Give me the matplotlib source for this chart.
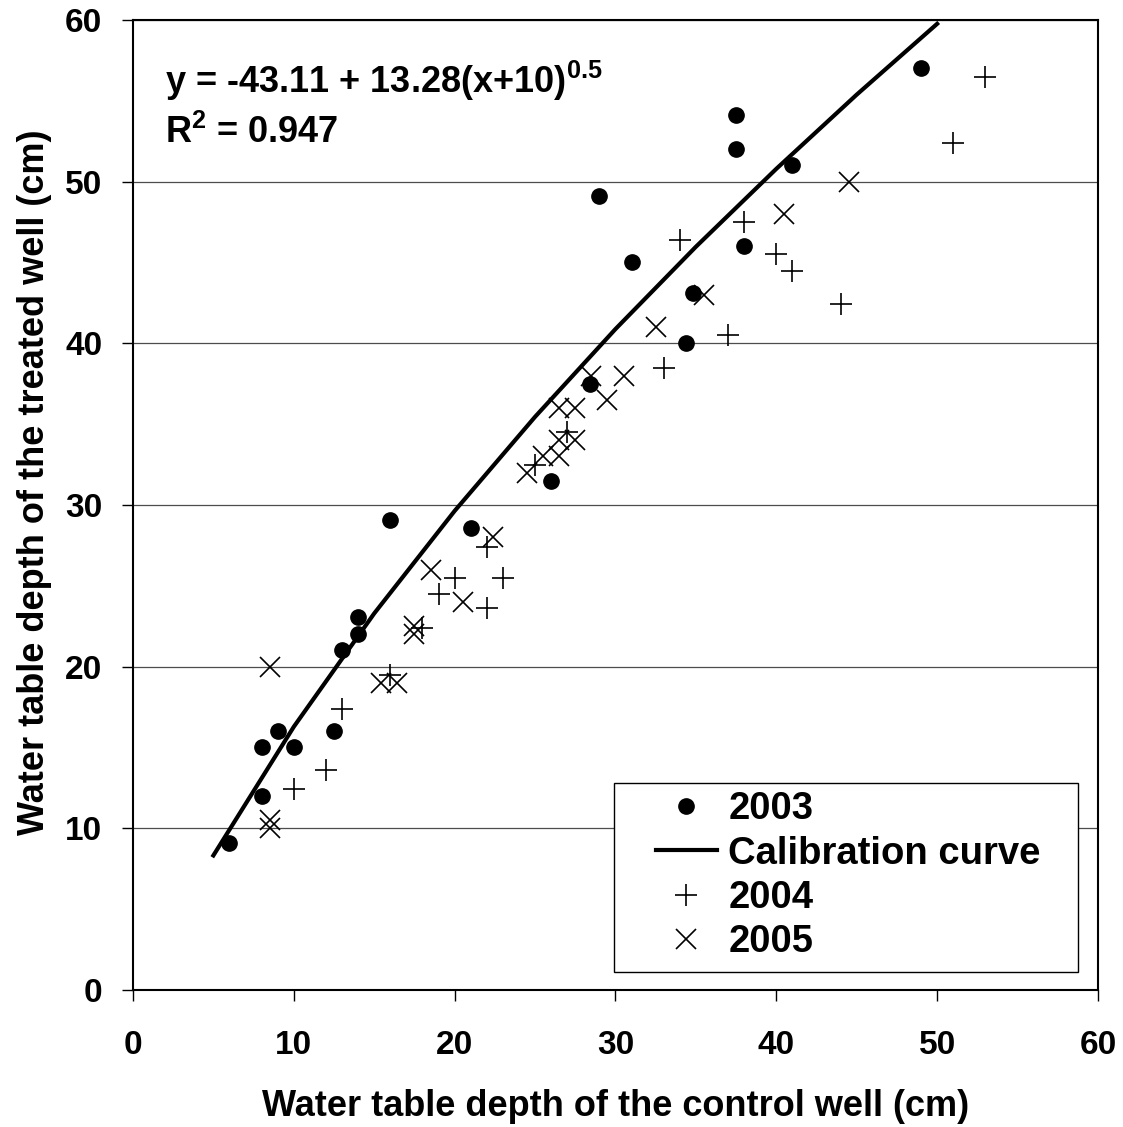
import matplotlib
matplotlib.use('Agg')
import matplotlib.pyplot as plt
from matplotlib.patches import Rectangle

plt.rcParams['font.family'] = ['Liberation Sans', 'DejaVu Sans']
plt.rcParams['font.weight'] = 'bold'
plt.rcParams['mathtext.fontset'] = 'custom'
plt.rcParams['mathtext.rm'] = 'Liberation Sans:bold'
plt.rcParams['mathtext.bf'] = 'Liberation Sans:bold'
plt.rcParams['mathtext.it'] = 'Liberation Sans:bold'

# 2003 observations (control, treated)
x_2003 = [6, 8, 8, 9, 10, 12.5, 13, 14, 14, 16, 21, 26, 28.4, 29, 31, 34.4, 34.8, 37.5, 37.5, 38, 41, 49]
y_2003 = [9.1, 12, 15, 16, 15, 16, 21, 22, 23.1, 29.1, 28.6, 31.5, 37.5, 49.1, 45, 40, 43.1, 52, 54.1, 46, 51, 57]

# 2004 observations
x_2004 = [10, 12, 13, 16, 18, 19, 20, 22, 22, 23, 25, 27, 33, 34, 37, 38, 40, 41, 44, 51, 53]
y_2004 = [12.4, 13.6, 17.4, 19.5, 22.4, 24.5, 25.5, 23.6, 27.4, 25.5, 32.5, 34.5, 38.5, 46.4, 40.5, 47.5, 45.5, 44.5, 42.4, 52.4, 56.5]

# 2005 observations
x_2005 = [8.5, 8.5, 8.5, 15.4, 16.4, 17.5, 17.5, 18.5, 20.5, 22.4, 24.5, 25.5, 26.5,
          26.5, 27.5, 26.5, 27.5, 29.5, 28.5, 30.5, 32.5, 35.5, 40.5, 44.5]
y_2005 = [10, 10.5, 20, 19, 19, 22, 22.5, 26, 24, 28, 32, 33, 33,
          34, 34, 36, 36, 36.5, 38, 38, 41, 43, 48, 50]

# calibration curve points
x_curve = [5, 10, 15, 20, 25, 30, 35, 40, 45, 50]
y_curve = [8.32, 16.28, 23.29, 29.63, 35.45, 40.88, 45.97, 50.79, 55.38, 59.76]

fig = plt.figure(figsize=(11.23, 11.27), dpi=100)
ax = fig.add_axes([0.1184, 0.1216, 0.8593, 0.8607])

ax.plot(x_2003, y_2003, 'o', color='black', markersize=11, label='2003', zorder=3)
ax.plot(x_curve, y_curve, '-', color='black', linewidth=3, label='Calibration curve', zorder=4)
ax.plot(x_2004, y_2004, '+', color='black', markersize=16, markeredgewidth=1.2, label='2004', zorder=3)
ax.plot(x_2005, y_2005, 'x', color='black', markersize=14, markeredgewidth=1.2, label='2005', zorder=3)

ax.set_xlim(0, 60)
ax.set_ylim(0, 60)
ax.set_xticks(range(0, 61, 10))
ax.set_yticks(range(0, 61, 10))
ax.yaxis.grid(True, color='0.3', linewidth=0.9)
ax.set_axisbelow(True)
for s in ax.spines.values():
    s.set_linewidth(1.5)
    s.set_color('black')
ax.tick_params(axis='both', direction='out', length=8, width=1, labelsize=24)
ax.tick_params(axis='x', pad=21)
ax.tick_params(axis='y', pad=14)

ax.text(0.033, 0.925, r'y = -43.11 + 13.28(x+10)$^{0.5}$', transform=ax.transAxes,
        fontsize=26, fontweight='bold', va='baseline', ha='left')
ax.text(0.033, 0.873, r'R$^{2}$ = 0.947', transform=ax.transAxes,
        fontsize=26, fontweight='bold', va='baseline', ha='left')

# legend box drawn separately, legend itself without frame
ax.add_patch(Rectangle((0.498, 0.0186), 0.481, 0.1944, transform=ax.transAxes,
                       facecolor='white', edgecolor='black', linewidth=1, zorder=5))
leg = ax.legend(loc='lower left', bbox_to_anchor=(0.530, 0.0186), borderaxespad=0,
                frameon=False, fontsize=27.5,
                handlelength=1.6, handletextpad=0.3, labelspacing=0.22, borderpad=0.3,
                prop={'weight': 'bold', 'size': 27.5})
leg.set_zorder(6)

fig.text(0.5477, 0.018, 'Water table depth of the control well (cm)', fontsize=26,
         fontweight='bold', ha='center', va='center')
fig.text(0.031, 0.572, 'Water table depth of the treated well (cm)', fontsize=26,
         fontweight='bold', ha='center', va='center', rotation=90)

fig.savefig('out.png', dpi=100)
